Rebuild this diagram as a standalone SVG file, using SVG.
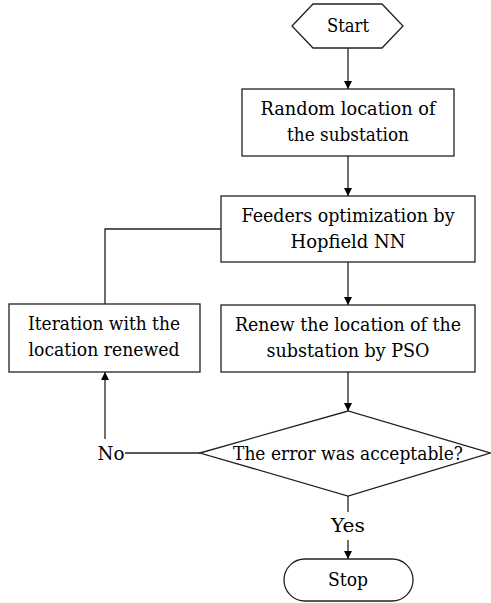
<svg xmlns="http://www.w3.org/2000/svg" width="491" height="603" viewBox="0 0 491 603" font-family="DejaVu Serif, serif">
<defs>
<marker id="arr" viewBox="0 0 10 10" refX="10" refY="5" markerWidth="8" markerHeight="9" markerUnits="userSpaceOnUse" orient="auto">
<path d="M0,0 L10,5 L0,10 Z" fill="#000"/>
</marker>
</defs>
<style>
.s{fill:#fff;stroke:#222;stroke-width:1.3}
.t{font-size:19px;fill:#000;text-anchor:middle}
.c{fill:none;stroke:#222;stroke-width:1.3}
</style>
<rect width="491" height="603" fill="#fff"/>
<g id="connectors">
<line class="c" x1="348" y1="48" x2="348" y2="89" marker-end="url(#arr)"/>
<line class="c" x1="348" y1="156" x2="348" y2="196" marker-end="url(#arr)"/>
<line class="c" x1="348" y1="262" x2="348" y2="305" marker-end="url(#arr)"/>
<line class="c" x1="348" y1="372" x2="348" y2="411" marker-end="url(#arr)"/>
<polyline class="c" points="221,229 105,229 105,304"/>
<line class="c" x1="125" y1="453" x2="200" y2="453"/>
<line class="c" x1="105" y1="439" x2="105" y2="372" marker-end="url(#arr)"/>
<line class="c" x1="348" y1="496" x2="348" y2="512"/>
<line class="c" x1="348" y1="540" x2="348" y2="559" marker-end="url(#arr)"/>
<text class="t" x="111" y="460" textLength="27" lengthAdjust="spacingAndGlyphs">No</text>
<text class="t" x="348" y="532" textLength="34" lengthAdjust="spacingAndGlyphs">Yes</text>
</g>
<g id="start">
<polygon class="s" points="292,26 313,4 382,4 403,26 382,48 313,48"/>
<text class="t" x="348" y="32" textLength="42" lengthAdjust="spacingAndGlyphs">Start</text>
</g>
<g id="random">
<rect class="s" x="242" y="89" width="212" height="67"/>
<text class="t" x="348" y="115" textLength="175" lengthAdjust="spacingAndGlyphs">Random location of</text>
<text class="t" x="348" y="141" textLength="122" lengthAdjust="spacingAndGlyphs">the substation</text>
</g>
<g id="feeders">
<rect class="s" x="221" y="196" width="254" height="66"/>
<text class="t" x="348" y="222" textLength="213" lengthAdjust="spacingAndGlyphs">Feeders optimization by</text>
<text class="t" x="348" y="248" textLength="115" lengthAdjust="spacingAndGlyphs">Hopfield NN</text>
</g>
<g id="iteration">
<rect class="s" x="9" y="304" width="191" height="68"/>
<text class="t" x="104" y="330" textLength="152" lengthAdjust="spacingAndGlyphs">Iteration with the</text>
<text class="t" x="104" y="356" textLength="151" lengthAdjust="spacingAndGlyphs">location renewed</text>
</g>
<g id="renew">
<rect class="s" x="221" y="305" width="254" height="67"/>
<text class="t" x="348" y="331" textLength="226" lengthAdjust="spacingAndGlyphs">Renew the location of the</text>
<text class="t" x="348" y="357" textLength="163" lengthAdjust="spacingAndGlyphs">substation by PSO</text>
</g>
<g id="decision">
<polygon class="s" points="200,453 348,411 490,453 348,496"/>
<text class="t" x="348" y="460" textLength="230" lengthAdjust="spacingAndGlyphs">The error was acceptable?</text>
</g>
<g id="stop">
<rect class="s" x="284" y="559" width="129" height="42" rx="21"/>
<text class="t" x="348" y="586" textLength="40" lengthAdjust="spacingAndGlyphs">Stop</text>
</g>
</svg>
